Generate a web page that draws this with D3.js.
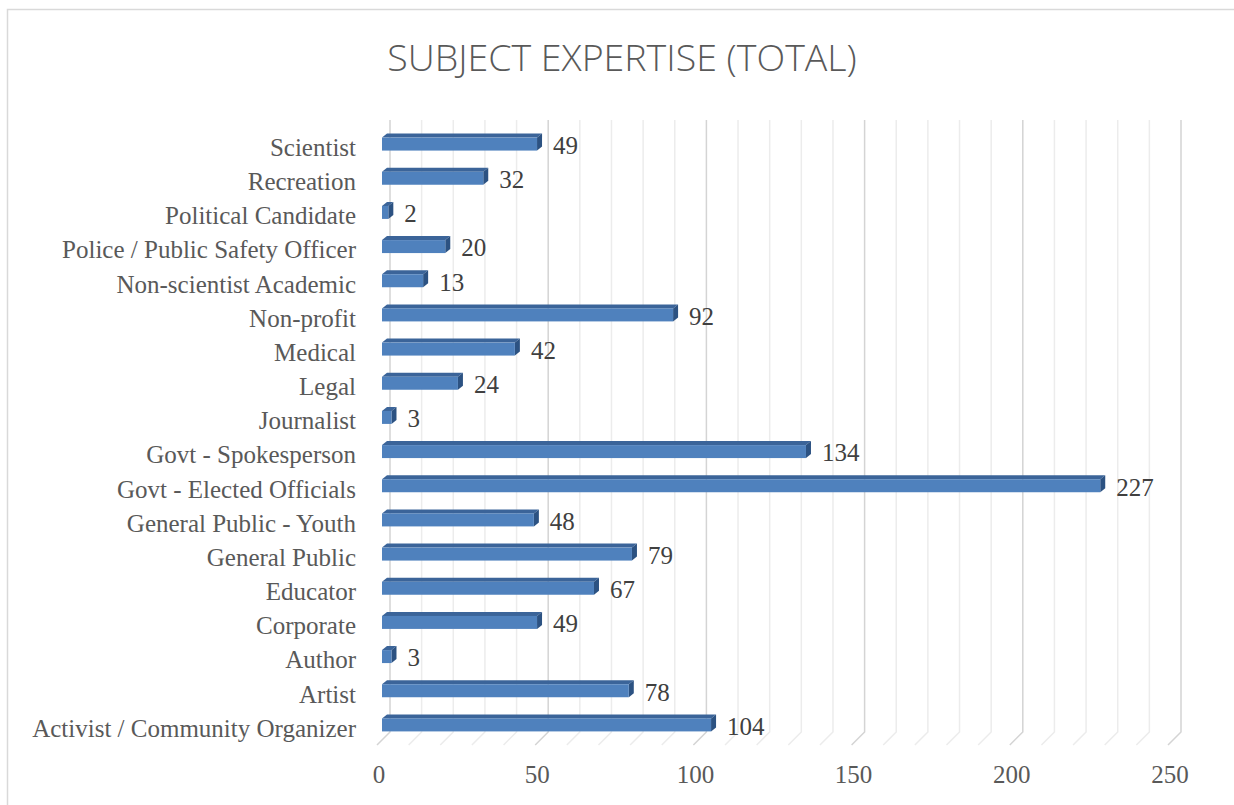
<!DOCTYPE html>
<meta charset="utf-8">
<style>
body { margin: 0; background: #fff; }
.cat, .tick { font-family: "Liberation Serif", serif; font-size: 25px; fill: #595959; }
.val { font-family: "Liberation Serif", serif; font-size: 25px; fill: #404040; }
.title { font-family: "Open Sans", sans-serif; font-weight: 300; font-size: 37.5px; fill: #595959; }
</style>
<body>
<script src="https://d3js.org/d3.v7.min.js"></script>
<script>

var width = 1234,
    height = 805;

// top to bottom
var categories = ["Scientist", "Recreation", "Political Candidate", "Police / Public Safety Officer",
  "Non-scientist Academic", "Non-profit", "Medical", "Legal", "Journalist", "Govt - Spokesperson",
  "Govt - Elected Officials", "General Public - Youth", "General Public", "Educator", "Corporate",
  "Author", "Artist", "Activist / Community Organizer"];
var values = [49, 32, 2, 20, 13, 92, 42, 24, 3, 134, 227, 48, 79, 67, 49, 3, 78, 104];
var tickLabels = [0, 50, 100, 150, 200, 250];
var gridValues = d3.range(0, 251, 10);

var data = categories.map(function(c, i) { return {name: c, value: values[i]}; });

// 3d look: front axis, bars in the middle, gridlines on the back wall
var xFront = d3.scaleLinear().domain([0, 250]).range([379, 1170]);
var xBar = d3.scaleLinear().domain([0, 250]).range([382, 1173]);
var xBack = d3.scaleLinear().domain([0, 250]).range([390, 1181]);

var y = d3.scaleBand()
    .domain(categories)
    .range([127, 742])
    .paddingInner(0.62)
    .paddingOuter(0.31);

var dx = 5, dy = -4;
var bw = y.bandwidth();

var svg = d3.select("body").append("svg")
    .attr("width", width)
    .attr("height", height);

svg.append("rect")
    .attr("x", 7.5).attr("y", 9.5)
    .attr("width", 1300).attr("height", 900)
    .attr("fill", "none")
    .attr("stroke", "#d9d9d9")
    .attr("stroke-width", 1.5);

svg.append("text")
    .attr("class", "title")
    .attr("x", 622)
    .attr("y", 71)
    .attr("text-anchor", "middle")
    .text("SUBJECT EXPERTISE (TOTAL)");

// back wall gridlines + floor
svg.append("g").selectAll("path")
    .data(gridValues)
  .enter().append("path")
    .attr("d", function(v) {
      var xb = xBack(v);
      return "M" + xb + ",120V732L" + (xb - 13) + ",745";
    })
    .attr("fill", "none")
    .attr("stroke", function(v) { return v % 50 === 0 ? "#d4d4d4" : "#ececec"; })
    .attr("stroke-width", 1.5);

// bars
var bar = svg.append("g").selectAll("g")
    .data(data)
  .enter().append("g");

bar.append("path")
    .attr("d", function(d) {
      var x0 = xBar(0), x1 = xBar(d.value), yy = y(d.name);
      return "M" + x0 + "," + yy + "L" + (x0 + dx) + "," + (yy + dy) + "L" + (x1 + dx) + "," + (yy + dy) + "L" + x1 + "," + yy + "Z";
    })
    .attr("fill", "#3b6499");

bar.append("path")
    .attr("d", function(d) {
      var x1 = xBar(d.value), yy = y(d.name);
      return "M" + x1 + "," + yy + "L" + (x1 + dx) + "," + (yy + dy) + "L" + (x1 + dx) + "," + (yy + bw + dy) + "L" + x1 + "," + (yy + bw) + "Z";
    })
    .attr("fill", "#2c5282");

bar.append("rect")
    .attr("x", xBar(0))
    .attr("y", function(d) { return y(d.name); })
    .attr("width", function(d) { return xBar(d.value) - xBar(0); })
    .attr("height", bw)
    .attr("fill", "#4f81bd");

bar.append("text")
    .attr("class", "val")
    .attr("x", function(d) { return xBar(d.value) + dx + 11; })
    .attr("y", function(d) { return y(d.name) + bw / 2 + 1; })
    .attr("dy", "0.35em")
    .text(function(d) { return d.value; });

// category labels
svg.append("g").selectAll("text")
    .data(categories)
  .enter().append("text")
    .attr("class", "cat")
    .attr("x", 356)
    .attr("y", function(c) { return y(c) + bw / 2 + 3; })
    .attr("dy", "0.35em")
    .attr("text-anchor", "end")
    .text(function(c) { return c; });

// value axis labels
svg.append("g").selectAll("text")
    .data(tickLabels)
  .enter().append("text")
    .attr("class", "tick")
    .attr("x", function(v) { return xFront(v); })
    .attr("y", 783)
    .attr("text-anchor", "middle")
    .text(function(v) { return v; });

</script>
